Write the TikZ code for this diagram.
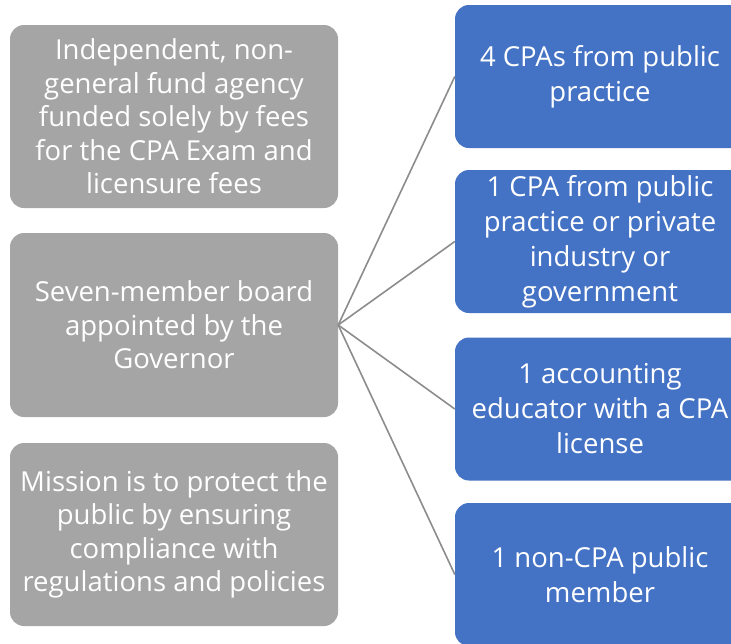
\documentclass[tikz,border=0pt]{standalone}
\usepackage{fontspec}
\setmainfont{Open Sans}
\definecolor{boxgray}{HTML}{A5A5A5}
\definecolor{boxblue}{HTML}{4472C4}
\definecolor{linegray}{HTML}{8C8C8C}
\tikzset{
  graybox/.style={rectangle, rounded corners=14pt, fill=boxgray, text=white, align=center,
    minimum width=328pt, minimum height=183pt, inner sep=0pt, font=\fontsize{27.5}{33.5}\selectfont},
  bluebox/.style={rectangle, rounded corners=14pt, fill=boxblue, text=white, align=center,
    minimum width=290pt, minimum height=143pt, inner sep=0pt, font=\fontsize{27.5}{35}\selectfont},
  link/.style={draw=linegray, line width=1.6pt}
}
\begin{document}
\begin{tikzpicture}[x=1pt,y=-1pt]
\useasboundingbox (0,0) rectangle (731,643);
\clip (0,0) rectangle (731,643);
\node[graybox] (g1) at (174,116.5) {Independent, non-\\general fund agency\\funded solely by fees\\for the CPA Exam and\\licensure fees};
\node[graybox, minimum height=184pt] (g2) at (174,325) {Seven-member board\\appointed by the\\Governor};
\node[graybox] (g3) at (174,534.5) {Mission is to protect the\\public by ensuring\\compliance with\\regulations and policies};
\node[bluebox] (b1) at (600,76.5) {4 CPAs from public\\practice};
\node[bluebox] (b2) at (600,241.5) {1 CPA from public\\practice or private\\industry or\\government};
\node[bluebox] (b3) at (600,409) {1 accounting\\educator with a CPA\\license};
\node[bluebox] (b4) at (600,574.5) {1 non-CPA public\\member};
\foreach \b in {b1,b2,b3,b4} \draw[link] (g2.east) -- (\b.west);
\end{tikzpicture}
\end{document}
